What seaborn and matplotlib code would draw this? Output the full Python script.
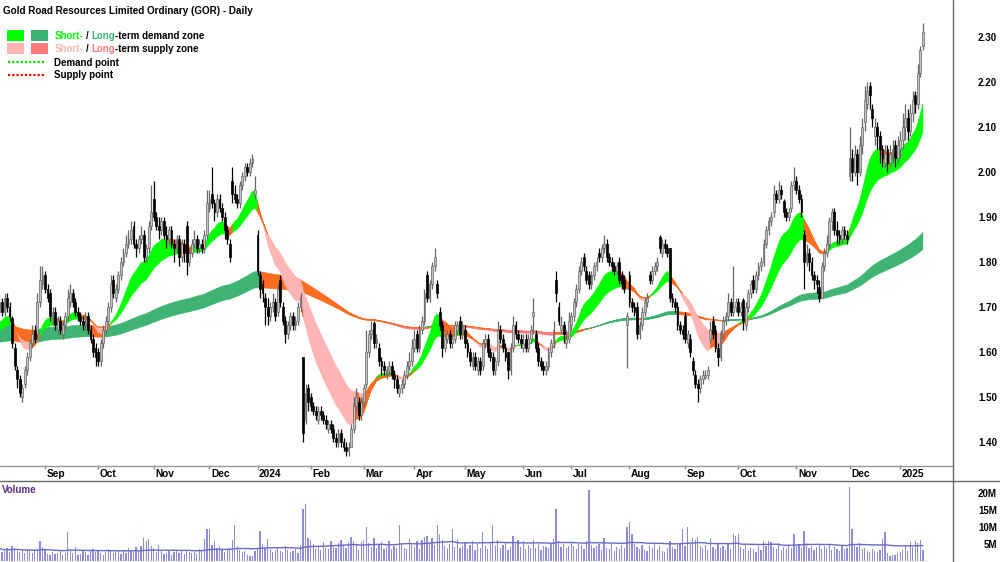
import numpy as np
import pandas as pd
import matplotlib
matplotlib.use("Agg")
import matplotlib.pyplot as plt
import matplotlib.transforms as mtransforms
from matplotlib.patches import Rectangle
from matplotlib.lines import Line2D
import seaborn as sns

# ---------------- data ----------------
title = "Gold Road Resources Limited Ordinary (GOR) - Daily"
start_date = "2023-08-07"
end_date = "2025-01-15"
holidays = ["2023-12-25", "2023-12-26", "2024-01-01", "2024-01-26", "2024-03-29",
            "2024-04-01", "2024-04-25", "2024-06-10", "2024-12-25", "2024-12-26", "2025-01-01"]

opens = [
    1.68,1.69,1.71,1.69,1.72,1.70,1.675,1.61,1.56,1.54,1.50,1.53,1.56,1.59,1.62,1.65,1.64,1.71,1.75,
    1.77,1.74,1.73,1.67,1.69,1.65,1.67,1.64,1.66,1.68,1.71,1.73,1.71,1.69,1.68,1.67,1.66,1.68,1.65,1.63,1.61,
    1.60,1.58,1.62,1.65,1.67,1.70,1.76,1.72,1.74,1.77,1.80,1.82,1.84,1.85,1.88,1.84,1.83,1.85,1.86,1.81,1.83,1.88,
    1.94,1.90,1.88,1.87,1.89,1.86,1.85,1.87,1.84,1.83,1.85,1.81,1.84,1.88,1.80,1.82,1.84,1.85,1.83,1.84,1.83,1.86,
    1.92,1.95,1.93,1.91,1.94,1.92,1.90,1.87,1.84,1.98,1.95,1.94,1.93,1.97,1.99,2.01,2.00,2.02,1.95,
    1.86,1.77,1.75,1.72,1.70,1.68,1.70,1.71,1.69,1.76,1.70,1.67,1.64,1.66,1.68,1.66,1.67,1.70,1.59,1.45,1.52,
    1.50,1.48,1.47,1.45,1.47,1.46,1.45,1.43,1.44,1.43,1.41,1.40,1.42,1.40,1.39,1.38,1.39,1.43,1.48,1.49,1.46,
    1.49,1.53,1.60,1.64,1.665,1.62,1.61,1.58,1.57,1.55,1.56,1.57,1.55,1.54,1.51,1.52,1.53,1.55,1.57,1.58,
    1.61,1.64,1.61,1.65,1.67,1.77,1.72,1.75,1.79,1.75,1.69,1.66,1.61,1.63,1.64,1.62,1.63,1.65,1.67,1.64,
    1.65,1.62,1.60,1.57,1.59,1.56,1.58,1.57,1.62,1.63,1.60,1.59,1.56,1.58,1.65,1.63,1.61,1.60,1.56,1.61,1.66,1.64,1.63,
    1.61,1.63,1.61,1.63,1.68,1.64,1.61,1.58,1.57,1.56,1.57,1.60,1.62,1.76,1.70,1.65,1.66,1.62,1.63,
    1.66,1.68,1.71,1.74,1.78,1.81,1.78,1.77,1.75,1.77,1.79,1.82,1.81,1.83,1.84,1.81,1.80,1.79,1.78,1.80,1.77,1.76,1.66,
    1.77,1.71,1.70,1.70,1.64,1.66,1.69,1.71,1.77,1.76,1.78,1.79,1.855,1.82,1.84,1.83,1.83,1.72,1.71,1.70,1.66,1.65,
    1.68,1.62,1.63,1.58,1.55,1.53,1.52,1.54,1.545,1.55,1.63,1.67,1.65,1.61,1.59,1.64,1.67,1.68,1.71,1.69,1.70,
    1.71,1.69,1.715,1.66,1.70,1.73,1.76,1.74,1.77,1.79,1.80,1.84,1.87,1.89,1.91,1.95,1.94,1.96,1.935,1.91,1.90,1.92,1.97,
    1.98,1.96,1.94,1.86,1.80,1.82,1.80,1.77,1.76,1.745,1.72,1.79,1.82,1.84,1.89,1.91,1.87,1.86,1.85,1.87,1.86,
    1.99,2.03,2.00,2.04,2.00,2.06,2.11,2.15,2.19,2.14,2.08,2.10,2.08,2.05,2.02,2.05,2.02,2.03,2.06,2.03,
    2.05,2.07,2.10,2.12,2.09,2.13,2.17,2.15,2.22,2.28,
]
highs = [
    1.72,1.73,1.72,1.73,1.73,1.71,1.68,1.62,1.57,1.55,1.53,1.57,1.60,1.63,1.66,1.66,1.73,1.79,1.79,
    1.78,1.75,1.74,1.70,1.70,1.68,1.68,1.67,1.69,1.74,1.75,1.74,1.72,1.70,1.69,1.68,1.69,1.69,1.66,1.64,1.62,
    1.61,1.63,1.66,1.68,1.71,1.77,1.77,1.75,1.78,1.81,1.83,1.86,1.87,1.89,1.89,1.85,1.86,1.88,1.87,1.84,1.89,1.97,
    1.98,1.91,1.90,1.90,1.90,1.88,1.88,1.88,1.85,1.86,1.86,1.85,1.85,1.89,1.83,1.85,1.87,1.86,1.85,1.85,1.87,1.96,
    1.96,2.01,1.94,1.95,1.95,1.93,1.91,1.88,1.85,2.01,1.97,1.95,1.98,2.00,2.02,2.02,2.03,2.04,1.99,
    1.87,1.78,1.76,1.73,1.72,1.71,1.73,1.72,1.75,1.77,1.71,1.68,1.67,1.69,1.69,1.68,1.71,1.73,1.59,1.53,1.53,
    1.51,1.49,1.48,1.48,1.48,1.47,1.46,1.45,1.45,1.44,1.42,1.43,1.43,1.41,1.40,1.40,1.44,1.50,1.52,1.50,1.50,
    1.53,1.65,1.65,1.67,1.67,1.64,1.62,1.59,1.58,1.57,1.58,1.58,1.56,1.55,1.53,1.54,1.56,1.58,1.60,1.63,
    1.65,1.65,1.66,1.68,1.74,1.78,1.76,1.80,1.83,1.76,1.70,1.67,1.64,1.65,1.65,1.64,1.67,1.67,1.68,1.67,
    1.66,1.63,1.61,1.60,1.60,1.59,1.59,1.63,1.64,1.64,1.61,1.60,1.59,1.67,1.66,1.64,1.62,1.60,1.62,1.68,1.67,1.65,1.64,
    1.64,1.64,1.64,1.66,1.72,1.65,1.62,1.59,1.58,1.58,1.61,1.63,1.67,1.78,1.71,1.68,1.67,1.65,1.69,
    1.69,1.72,1.75,1.79,1.81,1.82,1.79,1.78,1.78,1.80,1.81,1.83,1.84,1.86,1.85,1.82,1.81,1.80,1.80,1.81,1.78,1.77,1.69,
    1.78,1.72,1.71,1.71,1.67,1.70,1.72,1.73,1.78,1.79,1.80,1.81,1.86,1.85,1.85,1.84,1.83,1.73,1.72,1.71,1.67,1.66,
    1.69,1.65,1.64,1.59,1.56,1.54,1.55,1.56,1.56,1.57,1.67,1.68,1.66,1.62,1.65,1.68,1.69,1.73,1.72,1.79,1.72,
    1.72,1.71,1.72,1.71,1.74,1.76,1.77,1.78,1.80,1.81,1.85,1.88,1.90,1.91,1.97,1.96,1.98,1.97,1.94,1.92,1.92,1.98,2.01,
    1.99,1.97,1.95,1.87,1.84,1.83,1.81,1.78,1.77,1.76,1.80,1.83,1.86,1.90,1.92,1.92,1.89,1.87,1.88,1.88,1.87,
    2.10,2.05,2.06,2.05,2.08,2.12,2.19,2.20,2.20,2.15,2.12,2.11,2.09,2.06,2.06,2.06,2.06,2.07,2.07,2.08,
    2.09,2.13,2.15,2.14,2.15,2.18,2.18,2.24,2.28,2.33,
]
lows = [
    1.67,1.68,1.68,1.68,1.69,1.67,1.61,1.56,1.52,1.50,1.49,1.52,1.55,1.58,1.61,1.62,1.63,1.70,1.74,
    1.73,1.71,1.67,1.66,1.65,1.64,1.64,1.63,1.65,1.67,1.70,1.70,1.68,1.67,1.66,1.65,1.65,1.64,1.62,1.59,1.57,
    1.57,1.57,1.61,1.64,1.66,1.69,1.72,1.71,1.73,1.76,1.79,1.81,1.83,1.84,1.83,1.81,1.82,1.84,1.80,1.80,1.82,1.87,
    1.89,1.87,1.85,1.86,1.85,1.83,1.84,1.83,1.80,1.82,1.79,1.80,1.80,1.77,1.79,1.81,1.83,1.82,1.82,1.82,1.82,1.85,
    1.91,1.92,1.89,1.90,1.91,1.89,1.85,1.84,1.80,1.93,1.93,1.92,1.92,1.96,1.98,1.99,1.99,2.01,1.94,
    1.77,1.72,1.71,1.66,1.66,1.67,1.69,1.67,1.68,1.70,1.66,1.62,1.63,1.65,1.65,1.65,1.66,1.69,1.40,1.44,1.47,
    1.47,1.46,1.45,1.44,1.45,1.44,1.43,1.42,1.42,1.40,1.39,1.39,1.39,1.38,1.37,1.37,1.39,1.42,1.47,1.45,1.45,
    1.48,1.52,1.59,1.63,1.61,1.61,1.57,1.55,1.55,1.54,1.55,1.54,1.52,1.51,1.50,1.51,1.52,1.54,1.56,1.57,
    1.60,1.60,1.60,1.64,1.66,1.71,1.71,1.74,1.78,1.72,1.65,1.59,1.60,1.62,1.61,1.61,1.62,1.64,1.63,1.63,
    1.61,1.59,1.57,1.56,1.56,1.55,1.55,1.56,1.61,1.59,1.58,1.55,1.55,1.57,1.62,1.60,1.58,1.54,1.55,1.60,1.63,1.62,1.61,
    1.60,1.60,1.60,1.62,1.64,1.60,1.57,1.56,1.55,1.55,1.56,1.59,1.61,1.71,1.66,1.64,1.62,1.61,1.62,
    1.65,1.67,1.70,1.73,1.77,1.78,1.75,1.74,1.74,1.76,1.78,1.80,1.80,1.82,1.80,1.79,1.78,1.77,1.77,1.75,1.74,1.73,1.565,
    1.70,1.69,1.68,1.63,1.63,1.65,1.68,1.70,1.75,1.75,1.77,1.78,1.82,1.81,1.82,1.81,1.71,1.70,1.69,1.65,1.64,1.63,
    1.62,1.61,1.59,1.55,1.52,1.49,1.51,1.53,1.54,1.54,1.62,1.63,1.60,1.57,1.58,1.63,1.66,1.67,1.68,1.68,1.69,
    1.68,1.68,1.65,1.65,1.69,1.72,1.73,1.73,1.76,1.78,1.79,1.83,1.86,1.88,1.90,1.93,1.93,1.94,1.90,1.89,1.89,1.91,1.96,
    1.95,1.93,1.90,1.74,1.79,1.78,1.76,1.74,1.73,1.71,1.72,1.78,1.81,1.83,1.87,1.86,1.84,1.84,1.84,1.85,1.84,
    1.98,1.98,1.99,1.97,1.99,2.04,2.09,2.14,2.14,2.10,2.06,2.05,2.02,2.01,2.01,2.00,2.01,2.02,2.01,2.02,
    2.03,2.05,2.07,2.07,2.08,2.11,2.13,2.14,2.21,2.27,
]
closes = [
    1.70,1.71,1.69,1.72,1.70,1.68,1.62,1.57,1.54,1.51,1.52,1.56,1.59,1.62,1.64,1.63,1.71,1.76,1.77,
    1.74,1.72,1.68,1.69,1.66,1.67,1.65,1.66,1.68,1.72,1.73,1.71,1.69,1.68,1.67,1.66,1.68,1.65,1.63,1.60,1.59,
    1.58,1.62,1.65,1.67,1.70,1.75,1.73,1.74,1.77,1.80,1.82,1.84,1.85,1.87,1.84,1.83,1.85,1.86,1.81,1.83,1.88,1.91,
    1.90,1.88,1.87,1.89,1.86,1.85,1.87,1.84,1.83,1.85,1.81,1.84,1.82,1.80,1.82,1.84,1.85,1.83,1.84,1.83,1.86,1.93,
    1.94,1.93,1.91,1.94,1.92,1.90,1.87,1.85,1.81,1.95,1.94,1.93,1.97,1.99,2.01,2.00,2.02,2.03,1.96,
    1.78,1.74,1.73,1.70,1.68,1.70,1.71,1.68,1.74,1.71,1.67,1.64,1.66,1.68,1.66,1.67,1.70,1.72,1.42,1.51,1.49,
    1.48,1.47,1.46,1.47,1.46,1.45,1.44,1.44,1.43,1.41,1.40,1.42,1.40,1.39,1.38,1.39,1.43,1.48,1.50,1.46,1.49,
    1.52,1.60,1.64,1.65,1.62,1.63,1.58,1.57,1.56,1.56,1.57,1.55,1.54,1.52,1.52,1.53,1.55,1.57,1.58,1.61,
    1.63,1.61,1.65,1.67,1.73,1.72,1.75,1.79,1.81,1.73,1.66,1.61,1.63,1.64,1.62,1.63,1.66,1.66,1.64,1.66,
    1.62,1.60,1.58,1.59,1.57,1.58,1.56,1.62,1.63,1.60,1.59,1.56,1.58,1.65,1.63,1.61,1.59,1.56,1.61,1.66,1.64,1.63,1.62,
    1.62,1.61,1.63,1.65,1.69,1.61,1.58,1.57,1.56,1.57,1.60,1.62,1.65,1.73,1.67,1.66,1.64,1.63,1.67,
    1.68,1.71,1.74,1.78,1.80,1.79,1.76,1.75,1.77,1.79,1.80,1.81,1.83,1.84,1.81,1.80,1.79,1.78,1.79,1.76,1.75,1.74,1.68,
    1.71,1.70,1.69,1.64,1.66,1.69,1.71,1.72,1.76,1.78,1.79,1.80,1.83,1.84,1.83,1.82,1.72,1.71,1.70,1.66,1.65,1.64,
    1.63,1.64,1.60,1.56,1.53,1.52,1.54,1.55,1.55,1.56,1.65,1.64,1.61,1.59,1.64,1.67,1.68,1.71,1.69,1.70,1.71,
    1.69,1.70,1.67,1.70,1.73,1.75,1.74,1.77,1.79,1.80,1.84,1.87,1.89,1.90,1.95,1.94,1.96,1.95,1.91,1.90,1.91,1.97,1.98,
    1.96,1.94,1.91,1.80,1.82,1.80,1.77,1.76,1.75,1.72,1.79,1.82,1.84,1.89,1.91,1.87,1.86,1.85,1.87,1.86,1.85,
    2.03,2.00,2.04,2.00,2.06,2.10,2.16,2.18,2.17,2.12,2.10,2.08,2.05,2.03,2.04,2.02,2.04,2.05,2.03,2.06,
    2.07,2.10,2.12,2.09,2.13,2.16,2.15,2.22,2.27,2.31,
]
volume_m = [
    3.5,4.2,2.8,3.1,3.9,2.6,4.4,3.8,3.0,2.7,3.3,2.5,3.6,2.9,2.4,3.2,3.7,6.0,4.1,
    3.3,2.2,1.9,2.6,2.1,2.4,3.0,2.0,2.3,8.7,3.1,2.5,4.2,2.0,2.2,3.4,2.7,1.8,3.0,3.6,2.6,
    3.2,2.4,2.0,2.7,3.5,2.9,2.3,2.6,3.0,2.1,3.3,2.5,3.8,3.1,2.6,4.3,3.2,4.4,7.0,6.0,6.5,4.4,
    3.8,2.6,4.7,3.0,2.2,2.5,3.1,2.0,2.8,3.4,2.4,2.9,2.1,3.0,2.6,2.3,2.7,2.2,3.5,3.0,6.5,9.5,
    9.5,4.8,6.0,3.9,4.5,3.2,2.8,3.4,4.0,6.2,10.7,4.5,3.3,2.6,2.9,2.0,1.6,1.5,3.1,
    3.8,9.0,5.2,4.0,6.5,3.5,2.8,3.3,4.1,3.0,2.6,4.4,3.2,2.7,2.9,3.6,2.5,4.8,15.5,16.7,7.0,
    6.2,5.0,3.5,4.6,3.2,5.8,4.0,3.6,6.0,4.3,3.8,5.5,6.2,4.7,3.9,5.6,7.2,6.0,4.8,3.4,5.8,
    6.4,10.0,5.5,4.2,7.0,3.8,4.9,5.6,3.5,4.1,6.0,3.7,4.5,3.9,10.7,5.1,4.0,3.6,6.5,4.8,
    4.2,5.9,3.6,6.3,7.1,7.5,5.4,6.8,4.9,10.7,8.0,6.2,4.4,3.8,5.0,9.6,4.1,6.5,3.9,4.6,
    5.8,3.5,4.9,6.1,3.3,5.2,4.0,8.5,4.4,3.7,5.6,10.7,4.5,6.2,3.9,4.8,5.5,3.4,4.1,7.4,5.0,6.3,4.2,
    5.9,3.6,4.7,4.0,6.4,3.8,5.1,3.3,4.5,4.2,3.9,5.4,6.6,15.5,6.0,4.3,5.2,3.8,4.6,
    5.6,4.4,3.7,5.0,4.8,3.5,6.1,21.0,4.9,3.9,4.5,5.2,3.3,6.8,4.0,3.7,5.3,3.1,4.2,3.6,4.8,3.9,10.0,
    11.6,8.0,5.2,4.1,3.6,4.7,3.2,2.9,4.4,3.8,5.0,3.4,4.6,3.1,2.8,3.9,6.0,4.2,3.5,4.8,5.5,9.5,
    4.4,10.0,5.1,7.0,6.3,7.2,4.5,3.9,4.8,3.4,6.5,4.1,3.6,5.2,3.9,4.6,3.3,5.0,3.7,8.0,7.5,
    7.9,4.2,3.5,4.9,3.1,4.0,3.6,2.8,4.4,3.3,5.9,4.5,6.0,5.6,4.1,3.7,5.4,3.2,4.3,3.5,4.8,3.9,8.0,
    4.6,5.1,4.0,9.0,5.5,3.8,4.4,3.3,4.1,5.2,3.6,4.5,3.9,5.0,3.4,4.2,3.7,3.0,4.6,3.5,4.0,
    21.7,9.5,4.8,4.2,5.3,3.6,4.0,3.1,2.8,3.5,3.0,2.6,3.3,6.5,8.7,2.4,1.6,1.8,2.0,2.3,
    2.6,3.2,4.5,3.0,5.6,4.2,6.0,5.5,6.2,3.3,
]
price_ticks = [1.40, 1.50, 1.60, 1.70, 1.80, 1.90, 2.00, 2.10, 2.20, 2.30]
volume_ticks = [5, 10, 15, 20]
short_spans = [15, 18, 21, 24, 27, 30]
long_spans = [150, 160, 170, 180, 190, 200]
# zone edges read at the left edge of the chart (fastest, slowest average)
short_zone_start = [1.655, 1.640]
long_zone_start = [1.655, 1.620]
vol_ma_window = 60

# ---------------- style ----------------
SHORT_UP = "#00FF00"
LONG_UP = "#3CB371"
SHORT_DOWN = "#FFB4B4"
LONG_DOWN = "#FF7A7A"
MIXED = "#FF6A1E"
UP_FACE, UP_EDGE = "#C4C4C4", "#666666"
VOL_C, VOL_MA_C = "#8C8CDA", "#6A6AC6"
FS = 7

sns.set_theme(style="white")
plt.rcParams["font.family"] = ["Liberation Sans", "DejaVu Sans"]
plt.rcParams["font.weight"] = "bold"
plt.rcParams["axes.unicode_minus"] = False

W, H = 1000, 562
fig = plt.figure(figsize=(W / 100, H / 100), dpi=100)
fig.patch.set_facecolor("white")


def fx(px):
    return px / W


def fy(py):
    return 1 - py / H


ax = fig.add_axes([0, fy(465), fx(952), 465 / H])
axm = fig.add_axes([0, fy(480), fx(952), 15 / H])
axv = fig.add_axes([0, 0, fx(952), (H - 480) / H])

n = len(closes)
dates = pd.bdate_range(start_date, end_date)
dates = dates[~dates.isin(pd.to_datetime(holidays))][:n]
x = np.arange(n)
o = np.array(opens); h = np.array(highs); l = np.array(lows); c = np.array(closes)
XL = (1.22, 377.5)


# ---------------- zones (EMA ribbons) ----------------
def ema(span, seed):
    a = 2.0 / (span + 1)
    out = np.empty(n)
    prev = seed
    for i, v in enumerate(c):
        prev = prev + a * (v - prev)
        out[i] = prev
    return out


def ribbon(axis, spans, start, col_up, col_down, col_mid, z):
    seeds = np.linspace(start[0], start[1], len(spans))
    emas = [ema(s, sd) for s, sd in zip(spans, seeds)]
    for f, s in zip(emas[:-1], emas[1:]):
        rising = np.r_[True, np.diff(f) >= 0]
        above = f >= s
        state = np.where(above & rising, 0, np.where(~above & ~rising, 1, 2))
        for k, col in enumerate((col_up, col_down, col_mid)):
            m = state == k
            if not m.any():
                continue
            m = m | np.r_[False, m[:-1]]
            axis.fill_between(x, f, s, where=m, color=col, lw=0.4, edgecolor=col,
                              zorder=z, interpolate=False)


ribbon(ax, long_spans, long_zone_start, LONG_UP, LONG_DOWN, MIXED, 1)
ribbon(ax, short_spans, short_zone_start, SHORT_UP, SHORT_DOWN, MIXED, 2)

# ---------------- candles ----------------
up = c >= o
body_lo = np.minimum(o, c)
body_h = np.maximum(np.abs(c - o), 0.003)
ax.vlines(x[up], l[up], h[up], color=UP_EDGE, lw=0.9, zorder=3)
ax.vlines(x[~up], l[~up], h[~up], color="black", lw=0.9, zorder=3)
ax.bar(x[up], body_h[up], bottom=body_lo[up], width=0.72, color=UP_FACE,
       edgecolor=UP_EDGE, lw=0.5, zorder=4)
ax.bar(x[~up], body_h[~up], bottom=body_lo[~up], width=0.72, color="black",
       edgecolor="black", lw=0.5, zorder=4)

ax.set_xlim(*XL)
ax.set_ylim(1.3489, 2.3822)
ax.set_yticks(price_ticks)
ax.set_yticklabels([f"{t:.2f}" for t in price_ticks])
ax.yaxis.tick_right()
ax.tick_params(axis="y", length=0, pad=32.4, labelsize=FS, labelcolor="black")
for lab in ax.get_yticklabels():
    lab.set_ha("right"); lab.set_fontweight("bold")
ax.set_xticks([])
for sp in ax.spines.values():
    sp.set_visible(False)
ax.set_facecolor("white")

# ---------------- volume ----------------
vol = pd.Series(volume_m)
vol_ma = vol.rolling(vol_ma_window, min_periods=1).mean()
sns.barplot(x=x, y=vol.to_numpy(), native_scale=True, width=0.5, color=VOL_C,
            saturation=1, linewidth=0, errorbar=None, ax=axv, zorder=2)
sns.lineplot(x=x, y=vol_ma.to_numpy(), color=VOL_MA_C, lw=1.0, ax=axv, zorder=3)
axv.set_xlim(*XL)
axv.set_ylim(-0.2, 23.9)
axv.set_yticks(volume_ticks)
axv.set_yticklabels([f"{t}M" for t in volume_ticks])
axv.yaxis.tick_right()
axv.tick_params(axis="y", length=0, pad=32.4, labelsize=FS, labelcolor="black")
for lab in axv.get_yticklabels():
    lab.set_ha("right"); lab.set_fontweight("bold")
axv.set_xticks([])
axv.set_xlabel(""); axv.set_ylabel("")
for sp in axv.spines.values():
    sp.set_visible(False)
fig.text(fx(2), fy(493), "Volume", color="#5B2A86", fontsize=FS, fontweight="bold",
         va="baseline", ha="left")

# ---------------- month strip ----------------
axm.set_xlim(*XL)
axm.set_ylim(0, 1)
for sp in axm.spines.values():
    sp.set_visible(False)
axm.set_yticks([])
first_idx = pd.Series(x, index=dates).groupby([dates.year, dates.month]).first()
ticks, labels = [], []
for (yr, mo), idx in first_idx.items():
    if idx < XL[0]:
        continue
    ticks.append(idx)
    labels.append(str(yr) if mo == 1 else dates[idx].strftime("%b"))
axm.set_xticks(ticks)
axm.xaxis.tick_top()
axm.tick_params(axis="x", direction="in", length=3, width=1, color="#8A8A8A",
                labeltop=False, labelbottom=False)
trans = mtransforms.blended_transform_factory(axm.transData, axm.transAxes) + \
    mtransforms.ScaledTranslation(1.5 / 100, 0, fig.dpi_scale_trans)
for t, lab in zip(ticks, labels):
    axm.text(t, 0.4, lab, transform=trans, ha="left", va="center", fontsize=FS + 0.3,
             fontweight="bold", color="black")

# frame lines
fig.add_artist(Line2D([fx(0), fx(952)], [fy(465.5), fy(465.5)], transform=fig.transFigure,
                      color="#9A9A9A", lw=1))
fig.add_artist(Line2D([fx(0), fx(1000)], [fy(480.5), fy(480.5)], transform=fig.transFigure,
                      color="#666666", lw=1))
fig.add_artist(Line2D([fx(952.5), fx(952.5)], [0, 1], transform=fig.transFigure,
                      color="#6A6A6A", lw=1))

# ---------------- title & legend ----------------
fig.text(fx(3), fy(13.5), title, fontsize=FS + 0.1, fontweight="bold", color="black",
         va="baseline", ha="left")

fig.canvas.draw()
renderer = fig.canvas.get_renderer()


def text_width(s):
    t = fig.text(0, 0, s, fontsize=FS, fontweight="bold")
    w = t.get_window_extent(renderer).width
    t.remove()
    return w


SPACE_W = text_width("a a") - text_width("aa")


def rich(x_px, y_px, parts):
    for s, col in parts:
        if s == " ":
            x_px += SPACE_W
            continue
        t = fig.text(fx(x_px), fy(y_px), s, color=col, fontsize=FS, fontweight="bold",
                     va="baseline", ha="left")
        x_px += t.get_window_extent(renderer).width


for (px0, col) in ((7, SHORT_UP), (31, LONG_UP)):
    fig.add_artist(Rectangle((fx(px0), fy(40.5)), 17 / W, 10.5 / H, transform=fig.transFigure,
                             facecolor=col, edgecolor="none"))
for (px0, col) in ((7, SHORT_DOWN), (31, LONG_DOWN)):
    fig.add_artist(Rectangle((fx(px0), fy(53.5)), 17 / W, 11 / H, transform=fig.transFigure,
                             facecolor=col, edgecolor="none"))
rich(54.3, 38.8, [("Short-", SHORT_UP), (" ", None), ("/", "black"), (" ", None),
                  ("Long", LONG_UP), ("-term demand zone", "black")])
rich(54.3, 51.6, [("Short-", SHORT_DOWN), (" ", None), ("/", "black"), (" ", None),
                  ("Long", LONG_DOWN), ("-term supply zone", "black")])
fig.add_artist(Line2D([fx(7.5), fx(44.5)], [fy(62), fy(62)], transform=fig.transFigure,
                      color="#00E000", lw=1.6, linestyle=(0, (1.0, 0.9))))
fig.add_artist(Line2D([fx(7.5), fx(44.5)], [fy(74.5), fy(74.5)], transform=fig.transFigure,
                      color="#FF0000", lw=1.6, linestyle=(0, (1.0, 0.9))))
rich(54.3, 65.8, [("Demand point", "black")])
rich(54.3, 78.4, [("Supply point", "black")])

fig.savefig("out.png", dpi=100, facecolor="white")
